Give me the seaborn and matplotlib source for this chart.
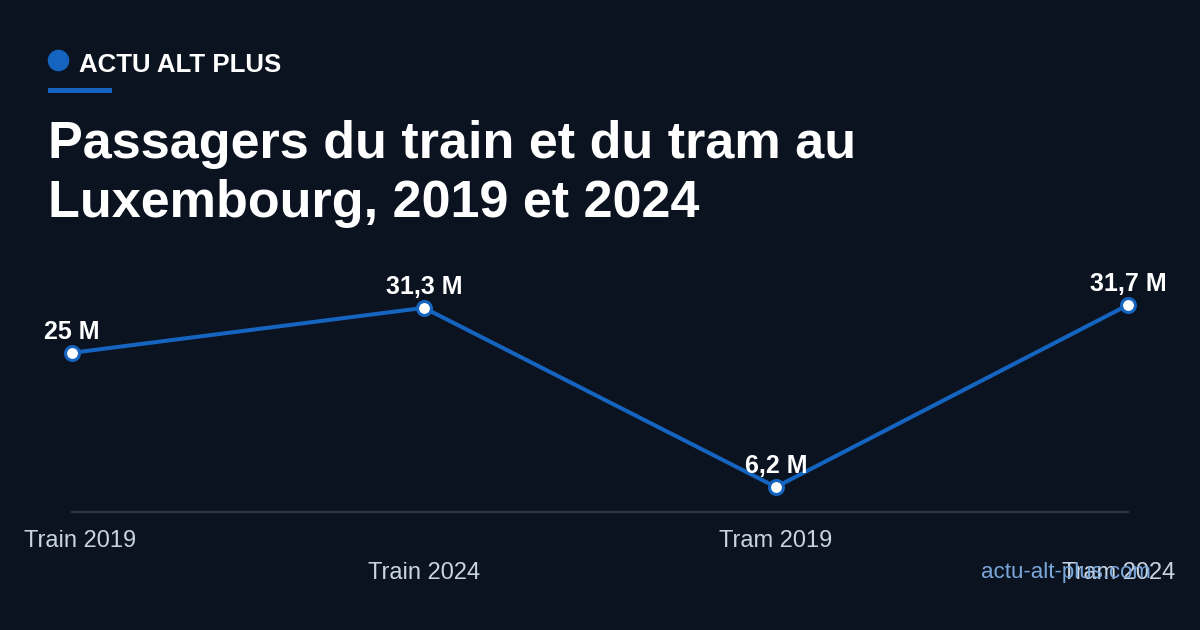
import pandas as pd
import matplotlib.pyplot as plt
import matplotlib.transforms as mtransforms
from matplotlib.lines import Line2D
from matplotlib.patches import Rectangle
import seaborn as sns

# Chart data
categories = ["Train 2019", "Train 2024", "Tram 2019", "Tram 2024"]
passengers = [25.0, 31.3, 6.2, 31.7]   # millions
value_labels = ["25 M", "31,3 M", "6,2 M", "31,7 M"]

BG = "#0b1320"
BLUE = "#1565c0"
TICK_COLOR = "#c9d4e2"

sns.set_theme(style="white")
plt.rcParams['font.family'] = ['Liberation Sans', 'DejaVu Sans']

df = pd.DataFrame({"category": categories, "passengers": passengers})

fig = plt.figure(figsize=(12, 6.3), dpi=100, facecolor=BG)
ax = fig.add_axes([0.06, 1 - 512 / 630, 0.88, 242 / 630])
ax.set_facecolor(BG)

sns.lineplot(data=df, x="category", y="passengers", sort=False, ax=ax,
             color=BLUE, linewidth=2.9, marker="o", markersize=10,
             markerfacecolor="white", markeredgecolor=BLUE, markeredgewidth=2.2,
             clip_on=False, zorder=3)

ax.set_xlim(0, len(categories) - 1)
ax.set_ylim(2.7, 36.6)
ax.set_xlabel("")
ax.set_ylabel("")
ax.set_yticks([])

for s in ["top", "right", "left"]:
    ax.spines[s].set_visible(False)
ax.spines["bottom"].set_color("#2b3648")
ax.spines["bottom"].set_linewidth(1.5)

ax.set_xticks(range(len(categories)))
ax.set_xticklabels(categories, color=TICK_COLOR, fontsize=17)
ax.tick_params(axis="x", length=0)
for i, tick in enumerate(ax.xaxis.get_major_ticks()):
    tick.set_pad(13 if i % 2 == 0 else 36)

# keep the edge labels inside the picture margin
labels = ax.get_xticklabels()
labels[0].set_transform(labels[0].get_transform() +
                        mtransforms.ScaledTranslation(8 / 100, 0, fig.dpi_scale_trans))
labels[-1].set_transform(labels[-1].get_transform() +
                         mtransforms.ScaledTranslation(-9 / 100, 0, fig.dpi_scale_trans))

# value labels above the points
for i, (v, lab) in enumerate(zip(passengers, value_labels)):
    ax.annotate(lab, (i, v), xytext=(0, 10), textcoords="offset points",
                ha="center", va="baseline", color="white",
                fontsize=18, fontweight="bold", zorder=4)

# header: brand dot, name and underline
fig.add_artist(Line2D([58 / 1200], [1 - 60 / 630], transform=fig.transFigure,
                      marker="o", markersize=14.5, color=BLUE, linestyle="none"))
fig.patches.append(Rectangle((48 / 1200, 1 - 93 / 630), 64 / 1200, 5 / 630,
                             transform=fig.transFigure, facecolor=BLUE, edgecolor="none"))
fig.text(79 / 1200, 1 - 72 / 630, "ACTU ALT PLUS", color="white", fontsize=18.6,
         fontweight="bold", va="baseline", ha="left")

fig.text(48 / 1200, 1 - 158 / 630, "Passagers du train et du tram au", color="white",
         fontsize=37.5, fontweight="bold", va="baseline", ha="left")
fig.text(48 / 1200, 1 - 217 / 630, "Luxembourg, 2019 et 2024", color="white",
         fontsize=37.5, fontweight="bold", va="baseline", ha="left")

fig.text(1151 / 1200, 1 - 578 / 630, "actu-alt-plus.com", color="#7aa7dc",
         fontsize=16, ha="right", va="baseline")

fig.savefig("out.png", dpi=100, facecolor=BG)
